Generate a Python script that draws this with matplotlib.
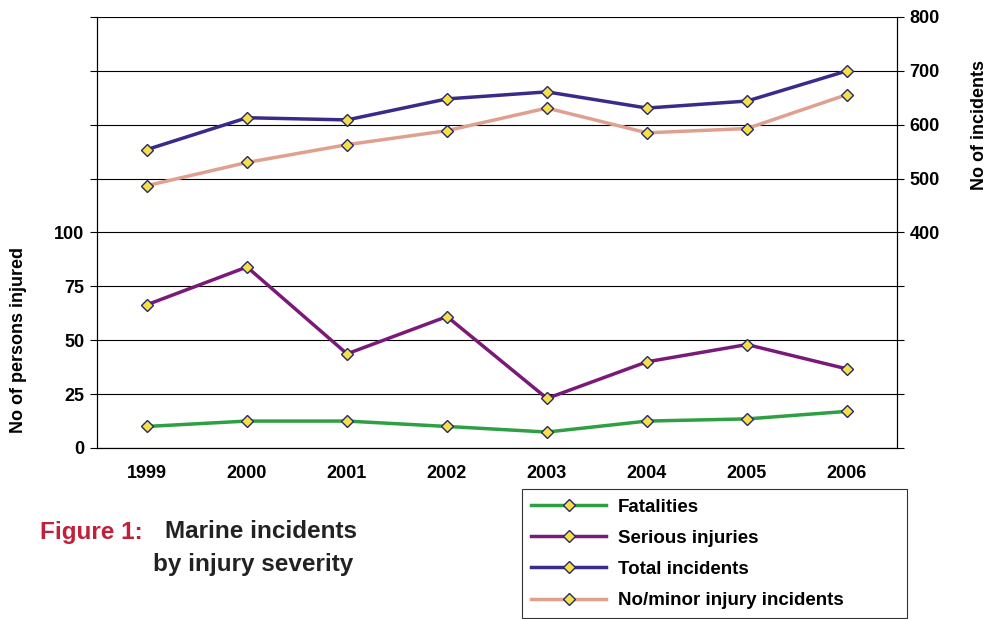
import matplotlib.pyplot as plt

plt.rcParams['font.family'] = ['Liberation Sans', 'DejaVu Sans']
plt.rcParams['font.weight'] = 'bold'

years = ["1999", "2000", "2001", "2002", "2003", "2004", "2005", "2006"]
fatalities = [10, 12.5, 12.5, 10, 7.4, 12.5, 13.5, 17]
serious = [66.5, 84, 43.7, 61, 23, 40, 48, 36.7]
total_incidents = [554, 613, 609, 648, 661, 631, 644, 700]
minor_incidents = [487, 530, 563, 589, 631, 585, 593, 656]

W, H = 987, 619
fig = plt.figure(figsize=(W / 100, H / 100), dpi=100)
ax = fig.add_axes([97 / W, 1 - 448 / H, 800 / W, 431 / H])
ax2 = ax.twinx()

x = range(len(years))
mk = dict(marker="D", markersize=6, markerfacecolor="#f5e04a", markeredgecolor="#2a2a60", lw=2.5)
l1, = ax.plot(x, fatalities, color="#2ea043", label="Fatalities", **mk)
l2, = ax.plot(x, serious, color="#7a1a78", label="Serious injuries", **mk)
l3, = ax2.plot(x, total_incidents, color="#3a2a8a", label="Total incidents", **mk)
l4, = ax2.plot(x, minor_incidents, color="#e0a090", label="No/minor injury incidents", **mk)

ax.set_xlim(-0.5, 7.5)
ax.set_ylim(0, 200)
ax2.set_ylim(0, 800)
ax.set_yticks(range(0, 201, 25))
ax.set_yticklabels([str(v) if v <= 100 else "" for v in range(0, 201, 25)], fontsize=13)
ax2.set_yticks(range(0, 801, 100))
ax2.set_yticklabels([str(v) if v >= 400 else "" for v in range(0, 801, 100)], fontsize=13)
ax.set_xticks(list(x))
ax.set_xticklabels(years, fontsize=13)
ax.tick_params(axis="x", length=0, pad=12)
ax.tick_params(axis="y", length=5, direction="out", pad=4)
ax2.tick_params(axis="y", length=5, direction="out", pad=4)
ax.grid(axis="y", color="black", lw=0.8)
ax.set_axisbelow(True)
for a in (ax, ax2):
    a.spines["top"].set_visible(False)

fig.text(19 / W, 1 - 340 / H, "No of persons injured", fontsize=13, rotation=90,
         ha="center", va="center")
fig.text(980 / W, 1 - 125 / H, "No of incidents", fontsize=13, rotation=90,
         ha="center", va="center")

leg = fig.legend(handles=[l1, l2, l3, l4], loc="upper left",
                 bbox_to_anchor=(522 / W, 1 - 489 / H, 385 / W, 0), mode="expand",
                 fontsize=13.5, frameon=True, fancybox=False, edgecolor="black",
                 handlelength=4, borderpad=0.5, labelspacing=0.75,
                 borderaxespad=0, handletextpad=0.6)
leg.get_frame().set_linewidth(0.8)

fig.text(40 / W, 1 - 532 / H, "Figure 1:", color="#c0203a", fontsize=17.5, va="center")
fig.text(165 / W, 1 - 532 / H, "Marine incidents", color="#222222", fontsize=17.5, va="center")
fig.text(153 / W, 1 - 565 / H, "by injury severity", color="#222222", fontsize=17.5, va="center")

fig.savefig("out.png", dpi=100)
